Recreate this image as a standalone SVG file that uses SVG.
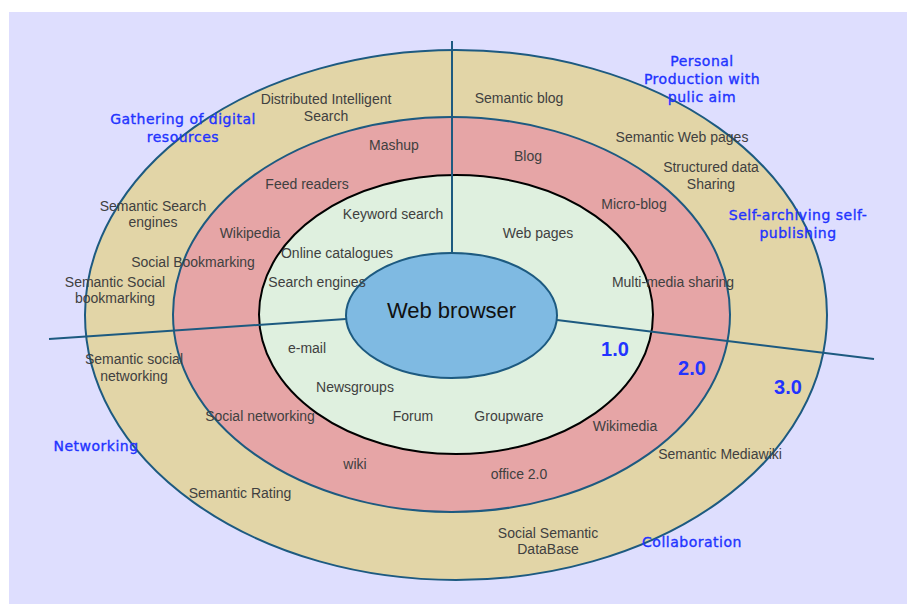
<svg xmlns="http://www.w3.org/2000/svg" width="907" height="604" viewBox="0 0 907 604">
<style>
.t{font-family:"Liberation Sans",Arial,sans-serif;font-size:14px;fill:#404040;text-anchor:middle}
.b{font-family:"DejaVu Sans",Verdana,sans-serif;font-size:14px;fill:#2233ff;stroke:#2233ff;stroke-width:0.35px;text-anchor:middle;letter-spacing:0.5px}
.v{font-family:"Liberation Sans",Arial,sans-serif;font-size:20px;font-weight:bold;fill:#2233ff;text-anchor:middle}
.ring{stroke:#1d5a80;stroke-width:2}
.conn{stroke:#1d5a80;stroke-width:2;fill:none}
</style>
<rect x="0" y="0" width="907" height="604" fill="#ffffff"/>
<rect x="9" y="12" width="898" height="592" fill="#dedefe"/>
<g id="ring-3-0"><ellipse class="ring" cx="456" cy="315" rx="371" ry="265" fill="#e2d5a7"/></g>
<g id="ring-2-0"><ellipse class="ring" cx="451.5" cy="314.5" rx="278.5" ry="197.5" fill="#e6a5a6"/></g>
<g id="ring-1-0"><ellipse cx="456" cy="314.5" rx="197" ry="139.5" fill="#dff0df" stroke="#000" stroke-width="2"/></g>
<g id="connectors">
<line class="conn" x1="452" y1="41" x2="452" y2="253"/>
<line class="conn" x1="49" y1="339" x2="346" y2="319"/>
<line class="conn" x1="557" y1="320" x2="874" y2="359"/>
</g>
<g id="web-browser">
<ellipse class="ring" cx="451.5" cy="315.5" rx="105.5" ry="62.5" fill="#7fbae2"/>
<text x="451.5" y="318" style="font-family:'Liberation Sans',Arial,sans-serif;font-size:22px;fill:#111;text-anchor:middle">Web browser</text>
</g>
<g id="versions">
<text class="v" x="615" y="356">1.0</text>
<text class="v" x="692" y="375">2.0</text>
<text class="v" x="788" y="394">3.0</text>
</g>
<g id="categories">
<text class="b" x="183" y="124">Gathering of digital</text>
<text class="b" x="183" y="142">resources</text>
<text class="b" x="702" y="66">Personal</text>
<text class="b" x="702" y="84">Production with</text>
<text class="b" x="702" y="102">pulic aim</text>
<text class="b" x="798" y="220">Self-archiving self-</text>
<text class="b" x="798" y="238">publishing</text>
<text class="b" x="96" y="451">Networking</text>
<text class="b" x="692" y="547">Collaboration</text>
</g>
<g id="web30">
<text class="t" x="326" y="104">Distributed Intelligent</text>
<text class="t" x="326" y="121">Search</text>
<text class="t" x="519" y="103">Semantic blog</text>
<text class="t" x="682" y="142">Semantic Web pages</text>
<text class="t" x="711" y="172">Structured data</text>
<text class="t" x="711" y="189">Sharing</text>
<text class="t" x="153" y="211">Semantic Search</text>
<text class="t" x="153" y="227">engines</text>
<text class="t" x="115" y="287">Semantic Social</text>
<text class="t" x="115" y="303">bookmarking</text>
<text class="t" x="134" y="364">Semantic social</text>
<text class="t" x="134" y="381">networking</text>
<text class="t" x="240" y="498">Semantic Rating</text>
<text class="t" x="548" y="538">Social Semantic</text>
<text class="t" x="548" y="554">DataBase</text>
<text class="t" x="720" y="459">Semantic Mediawiki</text>
</g>
<g id="web20">
<text class="t" x="394" y="150">Mashup</text>
<text class="t" x="528" y="161">Blog</text>
<text class="t" x="307" y="189">Feed readers</text>
<text class="t" x="634" y="209">Micro-blog</text>
<text class="t" x="250" y="238">Wikipedia</text>
<text class="t" x="193" y="267">Social Bookmarking</text>
<text class="t" x="673" y="287">Multi-media sharing</text>
<text class="t" x="260" y="421">Social networking</text>
<text class="t" x="625" y="431">Wikimedia</text>
<text class="t" x="355" y="469">wiki</text>
<text class="t" x="519" y="479">office 2.0</text>
</g>
<g id="web10">
<text class="t" x="393" y="219">Keyword search</text>
<text class="t" x="538" y="238">Web pages</text>
<text class="t" x="337" y="258">Online catalogues</text>
<text class="t" x="317" y="287">Search engines</text>
<text class="t" x="307" y="353">e-mail</text>
<text class="t" x="355" y="392">Newsgroups</text>
<text class="t" x="413" y="421">Forum</text>
<text class="t" x="509" y="421">Groupware</text>
</g>
</svg>
